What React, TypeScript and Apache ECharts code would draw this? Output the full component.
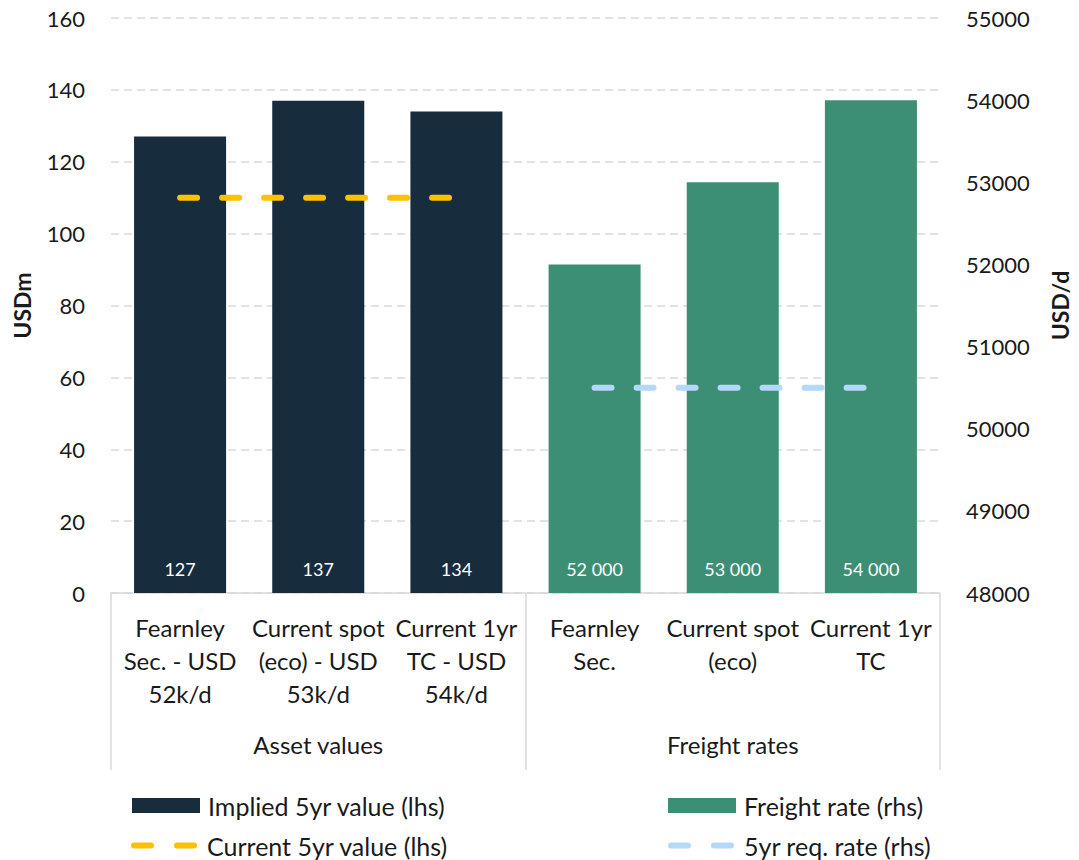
import React, { useEffect, useRef } from "react";
import * as echarts from "echarts";

// Sub-categories (first x-axis level) and the two groups (second level)
const categories = [
  "Fearnley\nSec. - USD\n52k/d",
  "Current spot\n(eco) - USD\n53k/d",
  "Current 1yr\nTC - USD\n54k/d",
  "Fearnley\nSec.",
  "Current spot\n(eco)",
  "Current 1yr\nTC",
];
const groups = ["Asset values", "Freight rates"];

// Asset values, USDm (lhs)
const impliedValues = [127, 137, 134];
const currentValue = [110, 110, 110];

// Freight rates, USD/d (rhs)
const freightRates = [52000, 53000, 54000];
const requiredRate = [50500, 50500, 50500];

// Axis ranges
const lhsTicks = { min: 0, max: 160, interval: 20 };
const rhsTicks = { min: 48000, max: 55000, interval: 1000 };

const FONT = "Lato, 'Open Sans', sans-serif";
const TEXT = "#1a1a1a";
const GRID_GREY = "#d9d9d9";
const NAVY = "#172c3c";
const GREEN = "#3c8f74";
const YELLOW = "#ffc000";
const LIGHT_BLUE = "#b4d8fa";

// Two rounded dashes, used as the legend key of the dashed lines
const DASH_ICON =
  "path://M3,0H20A3,3,0,0,1,20,6H3A3,3,0,0,1,3,0Z" +
  "M46,0H63A3,3,0,0,1,63,6H46A3,3,0,0,1,46,0Z";

const blank = ["-", "-", "-"];
const withSpaces = (v: number) =>
  String(v).replace(/\B(?=(\d{3})+(?!\d))/g, " ");

export default function App() {
  const ref = useRef<HTMLDivElement>(null);

  useEffect(() => {
    if (!ref.current) return;
    const chart = echarts.init(ref.current, undefined, { renderer: "svg" });

    const barLabel = {
      show: true,
      position: "insideBottom",
      distance: 15,
      color: "#ffffff",
      fontSize: 18,
      fontFamily: FONT,
      formatter: (p: any) => withSpaces(p.value),
    };

    const dashed = (color: string) => ({
      color,
      width: 6,
      type: [17, 25],
      cap: "round",
    });

    const legendText = {
      fontFamily: FONT,
      fontSize: 25,
      color: TEXT,
      padding: [0, 0, 0, 3],
    };
    const barLegend = {
      itemWidth: 68,
      itemHeight: 15,
      padding: 0,
      textStyle: legendText,
      selectedMode: false,
    };
    const lineLegend = {
      itemWidth: 66,
      itemHeight: 6,
      padding: 0,
      itemStyle: { borderWidth: 0 },
      textStyle: { ...legendText, padding: [0, 0, 0, 5] },
      selectedMode: false,
    };

    const axisTitle = { fontFamily: FONT, fontSize: 23, fontWeight: "bold", color: TEXT };

    chart.setOption({
      animation: false,
      textStyle: { fontFamily: FONT },
      grid: { left: 111, right: 132, top: 18, bottom: 267, containLabel: false },
      legend: [
        { ...barLegend, left: 132, top: 793, data: [{ name: "Implied 5yr value (lhs)", icon: "rect" }] },
        { ...barLegend, left: 668, top: 793, data: [{ name: "Freight rate (rhs)", icon: "rect" }] },
        { ...lineLegend, left: 131, top: 833, data: [{ name: "Current 5yr value (lhs)", icon: DASH_ICON }] },
        { ...lineLegend, left: 668, top: 833, data: [{ name: "5yr req. rate (rhs)", icon: DASH_ICON }] },
      ],
      xAxis: [
        {
          type: "category",
          data: categories,
          axisLine: { lineStyle: { color: GRID_GREY, width: 1.5 } },
          axisTick: { show: false },
          axisLabel: {
            color: TEXT,
            fontSize: 24,
            fontFamily: FONT,
            lineHeight: 33,
            margin: 18,
            interval: 0,
            align: "center",
          },
        },
        {
          type: "category",
          data: groups,
          position: "bottom",
          axisLine: { show: false },
          axisTick: { show: true, length: 177, lineStyle: { color: GRID_GREY, width: 1.5 } },
          axisLabel: {
            color: TEXT,
            fontSize: 24,
            fontFamily: FONT,
            lineHeight: 26,
            margin: 138,
            interval: 0,
          },
        },
      ],
      yAxis: [
        {
          type: "value",
          ...lhsTicks,
          name: "USDm",
          nameLocation: "middle",
          nameRotate: 90,
          nameGap: 78,
          nameTextStyle: axisTitle,
          axisLine: { show: false },
          axisTick: { show: false },
          axisLabel: { color: TEXT, fontSize: 22, fontFamily: FONT, margin: 26 },
          splitLine: { lineStyle: { color: GRID_GREY, width: 1.5, type: [8, 5] } },
        },
        {
          type: "value",
          ...rhsTicks,
          name: "USD/d",
          nameLocation: "middle",
          nameRotate: 90,
          nameGap: 108,
          nameTextStyle: axisTitle,
          axisLine: { show: false },
          axisTick: { show: false },
          axisLabel: {
            color: TEXT,
            fontSize: 22,
            fontFamily: FONT,
            margin: 26,
            formatter: (v: number) => String(v),
          },
          splitLine: { show: false },
        },
      ],
      series: [
        {
          name: "Implied 5yr value (lhs)",
          type: "bar",
          xAxisIndex: 0,
          yAxisIndex: 0,
          data: [...impliedValues, ...blank],
          barWidth: "66.6%",
          barGap: "-100%",
          itemStyle: { color: NAVY },
          label: barLabel,
        },
        {
          name: "Freight rate (rhs)",
          type: "bar",
          xAxisIndex: 0,
          yAxisIndex: 1,
          data: [...blank, ...freightRates],
          barWidth: "66.6%",
          barGap: "-100%",
          itemStyle: { color: GREEN },
          label: barLabel,
        },
        {
          name: "Current 5yr value (lhs)",
          type: "line",
          xAxisIndex: 0,
          yAxisIndex: 0,
          data: [...currentValue, ...blank],
          symbol: "none",
          itemStyle: { color: YELLOW },
          lineStyle: dashed(YELLOW),
          z: 5,
        },
        {
          name: "5yr req. rate (rhs)",
          type: "line",
          xAxisIndex: 0,
          yAxisIndex: 1,
          data: [...blank, ...requiredRate],
          symbol: "none",
          itemStyle: { color: LIGHT_BLUE },
          lineStyle: dashed(LIGHT_BLUE),
          z: 5,
        },
      ],
    });

    return () => chart.dispose();
  }, []);

  return (
    <div
      ref={ref}
      style={{ position: "fixed", left: 0, top: 0, width: 1079, height: 860, background: "#fff" }}
    />
  );
}
